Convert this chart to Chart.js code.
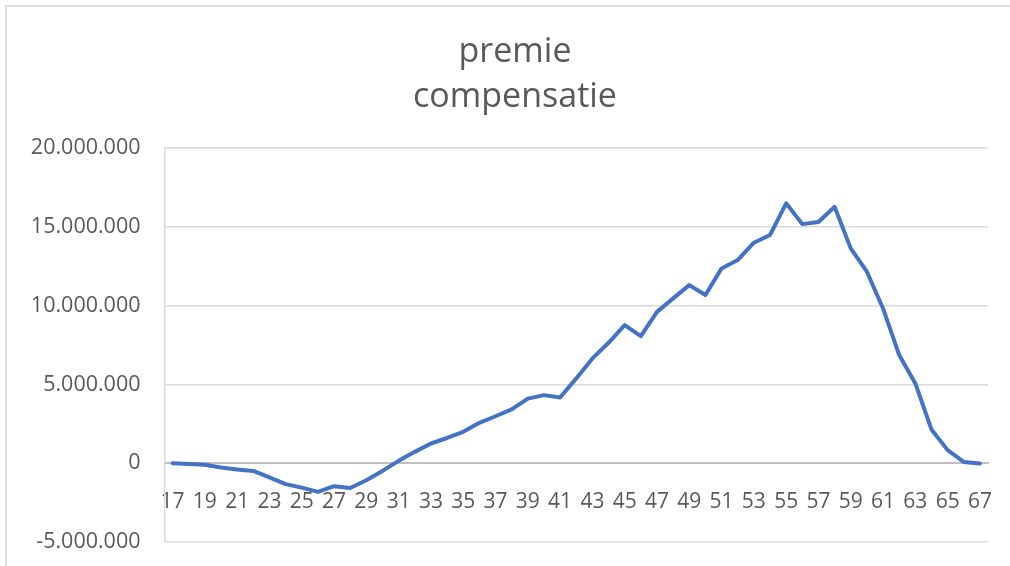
<!DOCTYPE html>
<html>
<head>
<meta charset="utf-8">
<script src="https://cdn.jsdelivr.net/npm/chart.js@4.4.1/dist/chart.umd.min.js"></script>
<style>
  html, body { margin: 0; padding: 0; background: #fff; overflow: hidden; }
  #wrap { position: relative; width: 1010px; height: 566px; }
  #frame { position: absolute; left: 5px; top: 5px; width: 2000px; height: 2000px;
           border-top: 2px solid #dedede; border-left: 2px solid #dedede; }
</style>
</head>
<body>
<div id="wrap">
  <div id="frame"></div>
  <canvas id="premieChart"></canvas>
</div>
<script>
// leeftijden (x-as)
const ages = [];
for (let a = 17; a <= 67; a++) ages.push(String(a));

// premie compensatie per leeftijd
const compensatie = [
    0, -50000, -100000, -270000, -400000, -490000, -900000, -1330000, -1550000, -1820000,
    -1460000, -1570000, -1080000, -490000, 150000, 720000, 1250000, 1600000, 1990000, 2560000,
    2980000, 3410000, 4100000, 4320000, 4170000, 5380000, 6650000, 7640000, 8760000, 8060000,
    9600000, 10460000, 11300000, 10670000, 12360000, 12890000, 13990000, 14480000, 16490000, 15170000,
    15300000, 16270000, 13630000, 12150000, 9820000, 6860000, 5060000, 2140000, 830000, 80000,
    -20000
];

const titleLines = ['premie', 'compensatie'];
const yMin = -5000000;
const yMax = 20000000;
const yStep = 5000000;

const textColor = '#595959';
const fontFamily = '"Open Sans", "DejaVu Sans", sans-serif';

// 20000000 -> 20.000.000
const formatDots = (v) => {
    const s = String(Math.abs(v)).replace(/\B(?=(\d{3})+(?!\d))/g, '.');
    return v < 0 ? '-' + s : s;
};

const ctx = document.getElementById('premieChart');

new Chart(ctx, {
    type: 'line',
    data: {
        labels: ages,
        datasets: [{
            label: 'premie compensatie',
            data: compensatie,
            borderColor: '#4472c4',
            backgroundColor: '#4472c4',
            borderWidth: 4,
            pointRadius: 0,
            tension: 0,
            borderCapStyle: 'round',
            borderJoinStyle: 'round'
        }]
    },
    options: {
        responsive: true,
        maintainAspectRatio: false,
        animation: false,
        layout: {
            // uneven left/right so the title sits where the original has it
            padding: { left: 30, right: 10, top: 0, bottom: 24 }
        },
        plugins: {
            legend: { display: false },
            tooltip: { enabled: false },
            title: {
                display: true,
                text: titleLines,
                color: textColor,
                font: { family: fontFamily, size: 34, weight: 'normal', lineHeight: '45px' },
                padding: { top: 29.5, bottom: 28.5 }
            }
        },
        scales: {
            x: {
                type: 'category',
                position: { y: 0 },
                offset: true,
                afterFit: (scale) => { scale.paddingLeft = 0; scale.paddingRight = 22; },
                grid: { display: false, drawTicks: false },
                border: { display: true, color: '#bfbfbf', width: 2 },
                ticks: {
                    autoSkip: false,
                    maxRotation: 0,
                    padding: 26,
                    color: textColor,
                    font: { family: fontFamily, size: 21 },
                    callback: function (val, i) {
                        return i % 2 === 0 ? this.getLabelForValue(val) : '';
                    }
                }
            },
            y: {
                min: yMin,
                max: yMax,
                afterFit: (scale) => {
                    scale.width = 134.5;
                    scale.paddingTop = 0;
                    scale.paddingBottom = 0;
                },
                grid: { color: '#d9d9d9', lineWidth: 1.5, drawTicks: false },
                border: { display: true, color: '#d9d9d9', width: 1.5 },
                ticks: {
                    stepSize: yStep,
                    padding: 24,
                    color: textColor,
                    font: { family: fontFamily, size: 21.5 },
                    callback: (v) => formatDots(v)
                }
            }
        }
    }
});
</script>
</body>
</html>
